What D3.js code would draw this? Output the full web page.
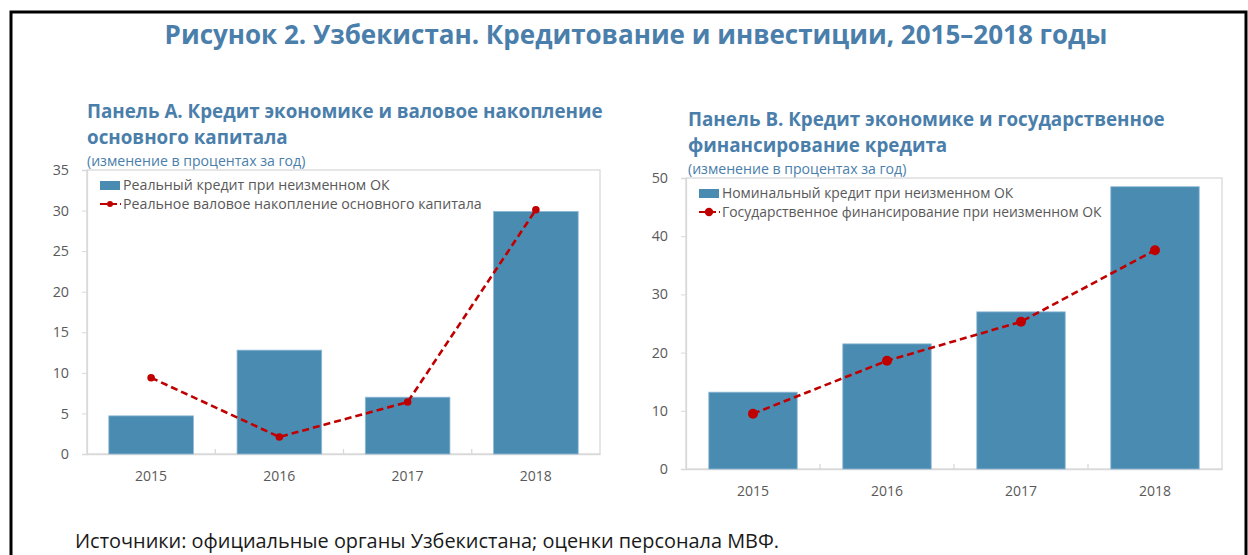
<!DOCTYPE html>
<html><head><meta charset="utf-8">
<script src="https://cdn.jsdelivr.net/npm/d3@7"></script>
<style>
html,body{margin:0;padding:0;background:#fff;}
svg{display:block;font-family:"Open Sans","Noto Sans",sans-serif;}
</style></head>
<body>
<svg id="chart" width="1248" height="555"></svg>
<script>
// ---- data ----
const years = ["2015","2016","2017","2018"];
const panelABars = [4.7, 12.8, 7.0, 29.9];   // Реальный кредит при неизменном ОК
const panelALine = [9.4, 2.1, 6.4, 30.1];    // Реальное валовое накопление основного капитала
const panelATicks = [0,5,10,15,20,25,30,35];
const panelBBars = [13.2, 21.5, 27.0, 48.5]; // Номинальный кредит при неизменном ОК
const panelBLine = [9.5, 18.6, 25.3, 37.6];  // Государственное финансирование при неизменном ОК
const panelBTicks = [0,10,20,30,40,50];

const mainTitle = "Рисунок 2. Узбекистан. Кредитование и инвестиции, 2015–2018 годы";
const panelATitle = ["Панель А. Кредит экономике и валовое накопление","основного капитала"];
const panelBTitle = ["Панель В. Кредит экономике и государственное","финансирование кредита"];
const subtitle = "(изменение в процентах за год)";
const panelALegend = ["Реальный кредит при неизменном ОК","Реальное валовое накопление основного капитала"];
const panelBLegend = ["Номинальный кредит при неизменном ОК","Государственное финансирование при неизменном ОК"];
const source = "Источники: официальные органы Узбекистана; оценки персонала МВФ.";

const BLUE_T = "#4a7eab", BAR = "#4a8bb2", RED = "#c00000", GREY = "#595959", AXIS = "#d9d9d9";

const svg = d3.select("#chart");

// frame
svg.append("path").attr("d","M11,555 V12 H1246 V555").attr("fill","none").attr("stroke","#000").attr("stroke-width",3);

svg.append("text").attr("x",636).attr("y",44).attr("text-anchor","middle")
  .attr("font-size",26).attr("font-weight","bold").attr("fill",BLUE_T).text(mainTitle);

svg.append("text").attr("x",75).attr("y",548).attr("font-size",19.9).attr("fill","#1a1a1a").text(source);

function panel(cfg){
  const g = svg.append("g");
  const x = d3.scaleBand().domain(years).range([cfg.x0,cfg.x1]).paddingInner(0.34).paddingOuter(0.17);
  const xb = d3.scalePoint().domain(years).range([cfg.x0,cfg.x1]).padding(0.5);
  const y = d3.scaleLinear().domain([0,cfg.ticks[cfg.ticks.length-1]]).range([cfg.y0,cfg.y1]);

  // titles
  cfg.title.forEach((t,i)=>g.append("text").attr("x",cfg.tx).attr("y",cfg.ty+i*26)
    .attr("font-size",18.8).attr("font-weight","bold").attr("fill",BLUE_T).text(t));
  g.append("text").attr("x",cfg.tx).attr("y",cfg.ty+48).attr("font-size",14.1).attr("fill",BLUE_T).text(subtitle);

  // plot border
  g.append("rect").attr("x",cfg.x0).attr("y",cfg.y1).attr("width",cfg.x1-cfg.x0).attr("height",cfg.y0-cfg.y1)
    .attr("fill","none").attr("stroke",AXIS).attr("stroke-width",1.3);

  // y axis
  const ya = g.append("g").attr("transform",`translate(${cfg.x0},0)`)
    .call(d3.axisLeft(y).tickValues(cfg.ticks).tickSize(5).tickPadding(13));
  ya.select(".domain").attr("stroke",AXIS).attr("stroke-width",1.3);
  ya.selectAll(".tick line").attr("stroke",AXIS);
  ya.selectAll(".tick text").attr("font-size",14.3).attr("fill",GREY).attr("font-family","Open Sans, sans-serif");

  // x axis
  const xa = g.append("g").attr("transform",`translate(0,${cfg.y0})`)
    .call(d3.axisBottom(x).tickSize(0).tickPadding(17));
  xa.select(".domain").attr("stroke",AXIS).attr("stroke-width",1.3);
  xa.selectAll(".tick text").attr("font-size",14).attr("fill",GREY).attr("font-family","Open Sans, sans-serif");
  // category separator ticks (inside)
  const step = x.step();
  g.selectAll(".sep").data(years.slice(1)).enter().append("line")
    .attr("x1",d=>xb(d)-step/2).attr("x2",d=>xb(d)-step/2)
    .attr("y1",cfg.y0).attr("y2",cfg.y0-5).attr("stroke",AXIS).attr("stroke-width",1.3);

  // bars
  g.selectAll(".bar").data(cfg.bars).enter().append("rect")
    .attr("x",(d,i)=>x(years[i])).attr("width",x.bandwidth())
    .attr("y",d=>y(d)).attr("height",d=>cfg.y0-y(d))
    .attr("fill",BAR).attr("stroke","#8fbad6").attr("stroke-width",0.8);

  // line
  const line = d3.line().x((d,i)=>xb(years[i])).y(d=>y(d));
  g.append("path").datum(cfg.line).attr("d",line).attr("fill","none")
    .attr("stroke",RED).attr("stroke-width",2.6).attr("stroke-dasharray","7,4");
  g.selectAll(".pt").data(cfg.line).enter().append("circle")
    .attr("cx",(d,i)=>xb(years[i])).attr("cy",d=>y(d)).attr("r",cfg.r).attr("fill",RED);

  // legend
  const lx = cfg.x0+13, ly = cfg.y1+15;
  g.append("rect").attr("x",lx).attr("y",ly-4).attr("width",20).attr("height",9).attr("fill",BAR);
  g.append("text").attr("x",lx+23).attr("y",ly+5).attr("font-size",cfg.lfs).attr("fill",GREY).text(cfg.legend[0]);
  g.append("line").attr("x1",lx).attr("x2",lx+21).attr("y1",ly+19).attr("y2",ly+19)
    .attr("stroke",RED).attr("stroke-width",2.2).attr("stroke-dasharray","7,3");
  g.append("circle").attr("cx",lx+10).attr("cy",ly+19).attr("r",cfg.r-0.8).attr("fill",RED);
  g.append("text").attr("x",lx+23).attr("y",ly+24).attr("font-size",cfg.lfs).attr("fill",GREY).text(cfg.legend[1]);
}

panel({x0:87,x1:600,y0:454,y1:170,ticks:panelATicks,bars:panelABars,line:panelALine,
  title:panelATitle,tx:87,ty:118,legend:panelALegend,r:3.8,lfs:14.2});
panel({x0:686,x1:1222,y0:469,y1:178,ticks:panelBTicks,bars:panelBBars,line:panelBLine,
  title:panelBTitle,tx:688,ty:126,legend:panelBLegend,r:5,lfs:13.9});
</script>
</body></html>
